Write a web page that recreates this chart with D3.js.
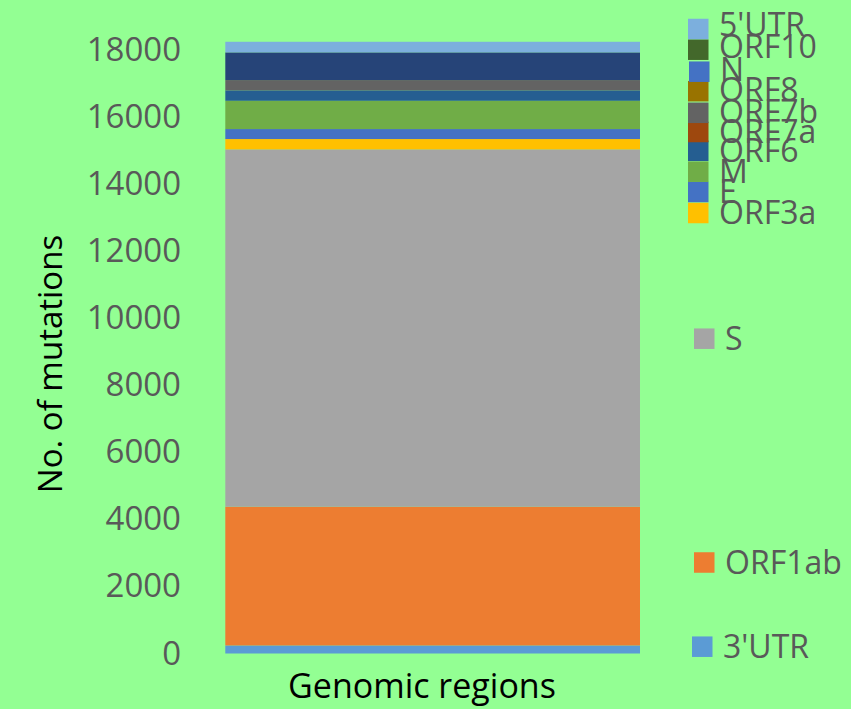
<!DOCTYPE html>
<html>
<head>
<meta charset="utf-8">
<script src="https://cdn.jsdelivr.net/npm/d3@7"></script>
<style>
  html, body { margin: 0; padding: 0; background: #93FF93; }
  svg { display: block; }
  text { font-family: "Open Sans", "Noto Sans", sans-serif; }
</style>
</head>
<body>
<svg id="chart" width="851" height="709"></svg>
<script>
// ---- data (stack order bottom -> top) ----
const categories = ["Genomic regions"];
const seriesNames = ["3'UTR", "ORF1ab", "S", "ORF3a", "E", "M", "ORF6", "ORF7a", "ORF7b", "ORF8", "N", "ORF10", "5'UTR"];
const seriesValues = [240, 4134, 10650, 307, 298, 843, 310, 0, 307, 0, 825, 0, 316];
const yTicks = [0, 2000, 4000, 6000, 8000, 10000, 12000, 14000, 16000, 18000];

// ---- styles ----
const barColors = ["#5B9BD5", "#ED7D31", "#A5A5A5", "#FFC000", "#4472C4", "#70AD47", "#255E91", "#9E480E", "#636363", "#997300", "#264478", "#43682B", "#7CAFDD"];
const legendColors = ["#5B9BD5", "#ED7D31", "#A5A5A5", "#FFC000", "#4472C4", "#70AD47", "#255E91", "#9E480E", "#636363", "#997300", "#4472C4", "#43682B", "#7CAFDD"];
// legend layout (swatch centre y, swatch left x, text y shift), same order as seriesNames
const legendCy = [646.7, 562.5, 338.7, 213, 192, 171.7, 150.8, 132, 112.8, 91.2, 71.7, 49.7, 29];
const legendX  = [692, 694, 694, 688, 688, 688, 688, 688, 688, 688, 689, 688, 688];
const legendDy = [0, 0, 0, 0, 0, 0, 0, 0, -1, -1, -2, -3, -4];

const svg = d3.select("#chart");

const x = d3.scaleBand().domain(categories).range([225.3, 640]).padding(0);
const y = d3.scaleLinear().domain([0, 18000]).range([653.5, 49.5]);

// stacked data
const row = { cat: categories[0] };
seriesNames.forEach((n, i) => row[n] = seriesValues[i]);
const stack = d3.stack().keys(seriesNames)([row]);

svg.append("g").selectAll("rect")
  .data(stack)
  .join("rect")
  .attr("x", d => x(d[0].data.cat))
  .attr("width", x.bandwidth())
  .attr("y", d => y(d[0][1]))
  .attr("height", d => Math.max(0, y(d[0][0]) - y(d[0][1])))
  .attr("fill", (d, i) => barColors[i]);

// y axis
const yAxis = svg.append("g")
  .attr("transform", "translate(181,0)")
  .call(d3.axisLeft(y).tickValues(yTicks).tickSize(0).tickPadding(0).tickFormat(d3.format("d")));
yAxis.select(".domain").remove();
yAxis.selectAll("text")
  .attr("fill", "#595959")
  .style("font-size", "33px")
  .style("font-family", "'Open Sans', sans-serif");

// axis titles
svg.append("text")
  .attr("x", 422).attr("y", 698)
  .attr("text-anchor", "middle")
  .style("font-size", "34px")
  .attr("fill", "#000")
  .text("Genomic regions");

svg.append("text")
  .attr("transform", "translate(62,364) rotate(-90)")
  .attr("text-anchor", "middle")
  .style("font-size", "33px")
  .attr("fill", "#000")
  .text("No. of mutations");

// legend
const sw = 20.5;
const lg = svg.append("g").selectAll("g")
  .data(seriesNames)
  .join("g");
lg.append("rect")
  .attr("x", (d, i) => legendX[i])
  .attr("y", (d, i) => legendCy[i] - sw / 2)
  .attr("width", sw).attr("height", sw)
  .attr("fill", (d, i) => legendColors[i]);
lg.append("text")
  .attr("x", (d, i) => legendX[i] + 31)
  .attr("y", (d, i) => legendCy[i] + 11.2 + legendDy[i])
  .style("font-size", "32px")
  .attr("fill", "#595959")
  .text(d => d);
</script>
</body>
</html>
